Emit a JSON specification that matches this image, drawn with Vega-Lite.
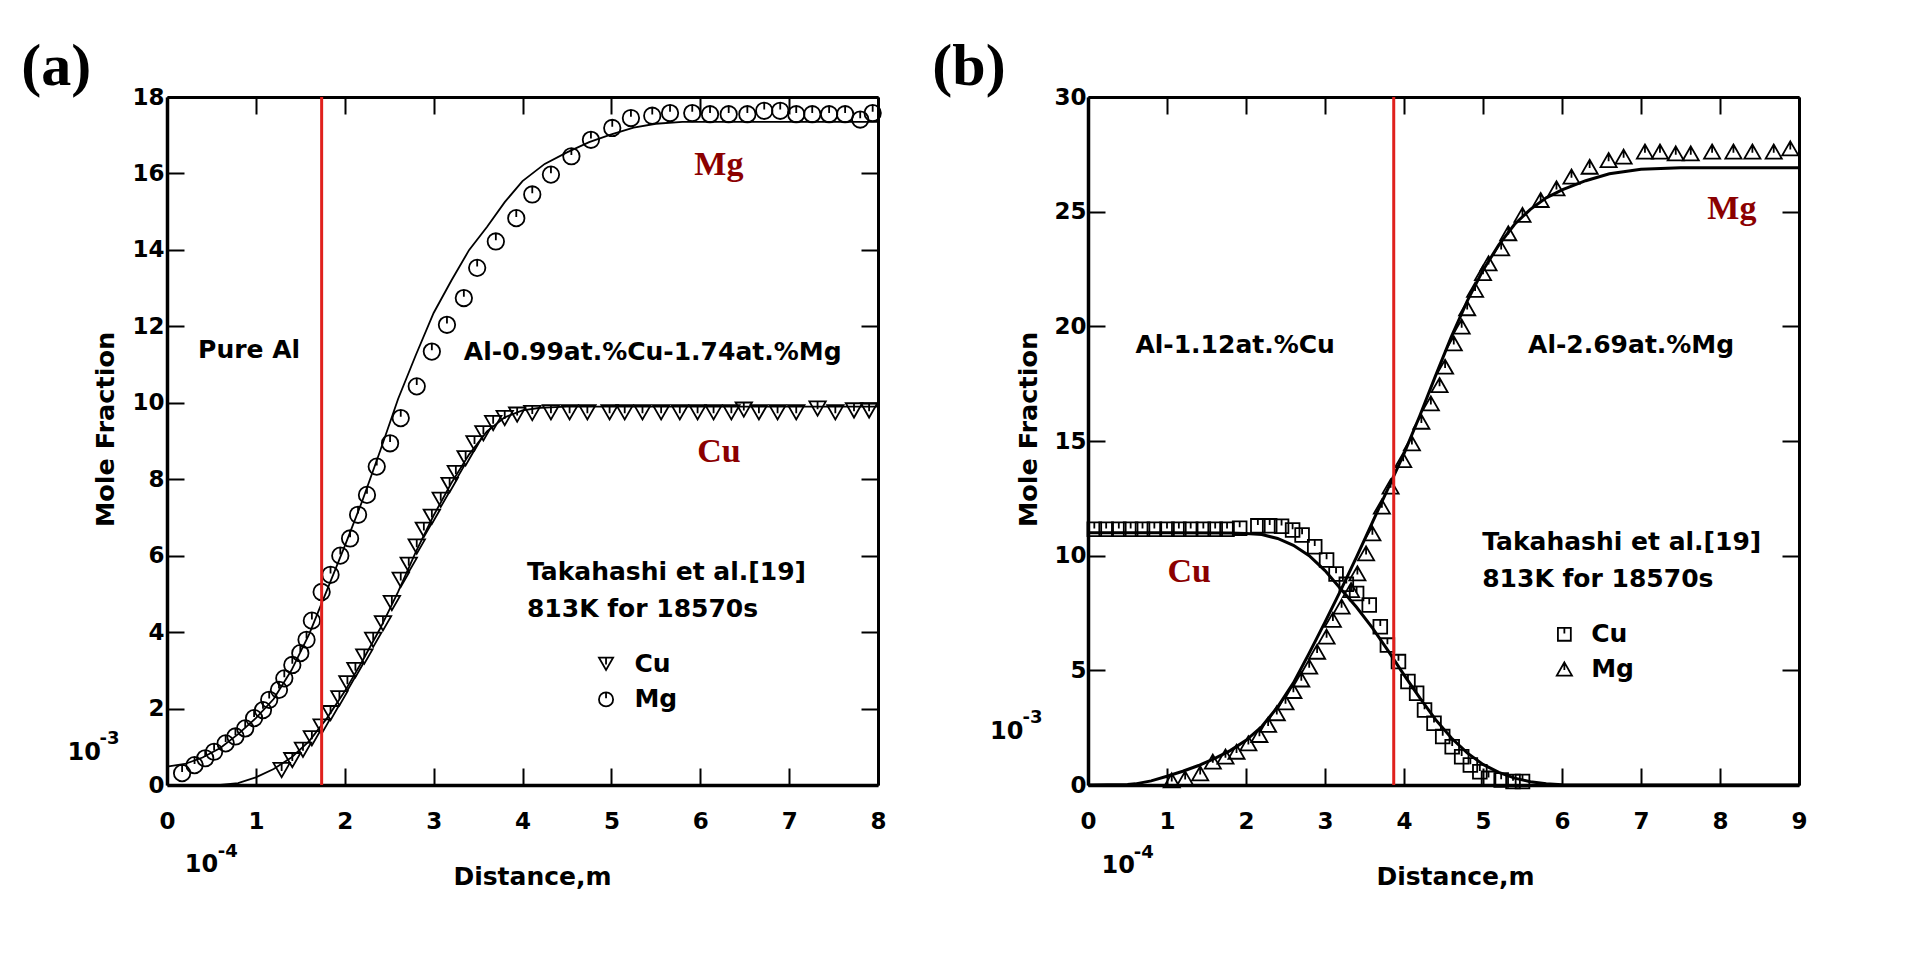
{
  "$schema": "https://vega.github.io/schema/vega-lite/v6.json",
  "autosize": "none",
  "padding": {"left": 167, "top": 97, "right": 1744, "bottom": 863},
  "background": "white",
  "bounds": "flush",
  "spacing": 210,
  "resolve": {"scale": {"shape": "independent"}},
  "config": {
    "view": {"stroke": null},
    "axis": {
      "grid": false,
      "domainColor": "black",
      "domainWidth": 3.5,
      "tickColor": "black",
      "tickWidth": 2,
      "tickSize": -17,
      "labelFont": "DejaVu Sans",
      "labelFontWeight": "bold",
      "labelFontSize": 23,
      "labelColor": "black",
      "labelFlush": false,
      "labelOverlap": false,
      "titleFont": "DejaVu Sans",
      "titleFontWeight": "bold",
      "titleColor": "black"
    },
    "text": {"font": "DejaVu Sans", "fontWeight": "bold", "fontSize": 25, "color": "black"}
  },
  "datasets": {
    "a_curves": [
      {"series": "Mg", "x": 0, "y": 0.48}, {"series": "Mg", "x": 0.2, "y": 0.55}, {"series": "Mg", "x": 0.4, "y": 0.72},
      {"series": "Mg", "x": 0.6, "y": 0.97}, {"series": "Mg", "x": 0.8, "y": 1.33}, {"series": "Mg", "x": 1.0, "y": 1.75},
      {"series": "Mg", "x": 1.2, "y": 2.25}, {"series": "Mg", "x": 1.4, "y": 3.0}, {"series": "Mg", "x": 1.6, "y": 3.95},
      {"series": "Mg", "x": 1.8, "y": 5.1}, {"series": "Mg", "x": 2.0, "y": 6.25}, {"series": "Mg", "x": 2.2, "y": 7.45},
      {"series": "Mg", "x": 2.4, "y": 8.75}, {"series": "Mg", "x": 2.6, "y": 10.1}, {"series": "Mg", "x": 2.8, "y": 11.25},
      {"series": "Mg", "x": 3.0, "y": 12.35}, {"series": "Mg", "x": 3.2, "y": 13.2}, {"series": "Mg", "x": 3.4, "y": 14.0},
      {"series": "Mg", "x": 3.6, "y": 14.6}, {"series": "Mg", "x": 3.8, "y": 15.25}, {"series": "Mg", "x": 4.0, "y": 15.8},
      {"series": "Mg", "x": 4.25, "y": 16.25}, {"series": "Mg", "x": 4.5, "y": 16.55}, {"series": "Mg", "x": 4.75, "y": 16.82},
      {"series": "Mg", "x": 5.0, "y": 17.02}, {"series": "Mg", "x": 5.25, "y": 17.2}, {"series": "Mg", "x": 5.5, "y": 17.3},
      {"series": "Mg", "x": 5.8, "y": 17.35}, {"series": "Mg", "x": 8.0, "y": 17.35},
      {"series": "Cu", "x": 0.6, "y": 0}, {"series": "Cu", "x": 0.8, "y": 0.05}, {"series": "Cu", "x": 1.0, "y": 0.2},
      {"series": "Cu", "x": 1.2, "y": 0.42}, {"series": "Cu", "x": 1.4, "y": 0.72}, {"series": "Cu", "x": 1.6, "y": 1.15},
      {"series": "Cu", "x": 1.8, "y": 1.75}, {"series": "Cu", "x": 2.0, "y": 2.45}, {"series": "Cu", "x": 2.2, "y": 3.25},
      {"series": "Cu", "x": 2.4, "y": 4.1}, {"series": "Cu", "x": 2.6, "y": 5.05}, {"series": "Cu", "x": 2.8, "y": 6.1},
      {"series": "Cu", "x": 3.0, "y": 7.05}, {"series": "Cu", "x": 3.2, "y": 7.9}, {"series": "Cu", "x": 3.4, "y": 8.65},
      {"series": "Cu", "x": 3.6, "y": 9.25}, {"series": "Cu", "x": 3.8, "y": 9.62}, {"series": "Cu", "x": 4.0, "y": 9.8},
      {"series": "Cu", "x": 4.2, "y": 9.87}, {"series": "Cu", "x": 4.5, "y": 9.9}, {"series": "Cu", "x": 8.0, "y": 9.9}
    ],
    "a_points": [
      {"series": "Mg", "x": 0.17, "y": 0.31}, {"series": "Mg", "x": 0.31, "y": 0.52}, {"series": "Mg", "x": 0.43, "y": 0.7},
      {"series": "Mg", "x": 0.53, "y": 0.87}, {"series": "Mg", "x": 0.66, "y": 1.09}, {"series": "Mg", "x": 0.77, "y": 1.27},
      {"series": "Mg", "x": 0.88, "y": 1.48}, {"series": "Mg", "x": 0.98, "y": 1.75}, {"series": "Mg", "x": 1.08, "y": 1.96},
      {"series": "Mg", "x": 1.15, "y": 2.23}, {"series": "Mg", "x": 1.26, "y": 2.49}, {"series": "Mg", "x": 1.32, "y": 2.79},
      {"series": "Mg", "x": 1.41, "y": 3.14}, {"series": "Mg", "x": 1.5, "y": 3.45}, {"series": "Mg", "x": 1.57, "y": 3.8},
      {"series": "Mg", "x": 1.63, "y": 4.3}, {"series": "Mg", "x": 1.74, "y": 5.05}, {"series": "Mg", "x": 1.84, "y": 5.5},
      {"series": "Mg", "x": 1.95, "y": 6.0}, {"series": "Mg", "x": 2.06, "y": 6.45}, {"series": "Mg", "x": 2.15, "y": 7.07},
      {"series": "Mg", "x": 2.25, "y": 7.59}, {"series": "Mg", "x": 2.36, "y": 8.33}, {"series": "Mg", "x": 2.51, "y": 8.94},
      {"series": "Mg", "x": 2.63, "y": 9.6}, {"series": "Mg", "x": 2.81, "y": 10.43}, {"series": "Mg", "x": 2.98, "y": 11.34},
      {"series": "Mg", "x": 3.15, "y": 12.04}, {"series": "Mg", "x": 3.34, "y": 12.74}, {"series": "Mg", "x": 3.49, "y": 13.53},
      {"series": "Mg", "x": 3.7, "y": 14.22}, {"series": "Mg", "x": 3.93, "y": 14.83}, {"series": "Mg", "x": 4.11, "y": 15.45},
      {"series": "Mg", "x": 4.32, "y": 15.97}, {"series": "Mg", "x": 4.55, "y": 16.45}, {"series": "Mg", "x": 4.77, "y": 16.88},
      {"series": "Mg", "x": 5.01, "y": 17.19}, {"series": "Mg", "x": 5.22, "y": 17.45}, {"series": "Mg", "x": 5.46, "y": 17.51},
      {"series": "Mg", "x": 5.66, "y": 17.58}, {"series": "Mg", "x": 5.91, "y": 17.58}, {"series": "Mg", "x": 6.11, "y": 17.55},
      {"series": "Mg", "x": 6.32, "y": 17.55}, {"series": "Mg", "x": 6.53, "y": 17.55}, {"series": "Mg", "x": 6.72, "y": 17.64},
      {"series": "Mg", "x": 6.9, "y": 17.64}, {"series": "Mg", "x": 7.08, "y": 17.55}, {"series": "Mg", "x": 7.26, "y": 17.55},
      {"series": "Mg", "x": 7.45, "y": 17.55}, {"series": "Mg", "x": 7.63, "y": 17.55}, {"series": "Mg", "x": 7.8, "y": 17.41},
      {"series": "Mg", "x": 7.94, "y": 17.58},
      {"series": "Cu", "x": 1.29, "y": 0.39}, {"series": "Cu", "x": 1.41, "y": 0.65}, {"series": "Cu", "x": 1.53, "y": 0.92},
      {"series": "Cu", "x": 1.63, "y": 1.22}, {"series": "Cu", "x": 1.74, "y": 1.53}, {"series": "Cu", "x": 1.84, "y": 1.88},
      {"series": "Cu", "x": 1.94, "y": 2.27}, {"series": "Cu", "x": 2.03, "y": 2.66}, {"series": "Cu", "x": 2.12, "y": 3.01},
      {"series": "Cu", "x": 2.22, "y": 3.36}, {"series": "Cu", "x": 2.32, "y": 3.8}, {"series": "Cu", "x": 2.43, "y": 4.23},
      {"series": "Cu", "x": 2.53, "y": 4.76}, {"series": "Cu", "x": 2.63, "y": 5.37}, {"series": "Cu", "x": 2.72, "y": 5.76},
      {"series": "Cu", "x": 2.81, "y": 6.24}, {"series": "Cu", "x": 2.89, "y": 6.68}, {"series": "Cu", "x": 2.98, "y": 7.02},
      {"series": "Cu", "x": 3.08, "y": 7.46}, {"series": "Cu", "x": 3.18, "y": 7.85}, {"series": "Cu", "x": 3.25, "y": 8.16},
      {"series": "Cu", "x": 3.36, "y": 8.55}, {"series": "Cu", "x": 3.46, "y": 8.94}, {"series": "Cu", "x": 3.56, "y": 9.2},
      {"series": "Cu", "x": 3.67, "y": 9.47}, {"series": "Cu", "x": 3.8, "y": 9.6}, {"series": "Cu", "x": 3.94, "y": 9.69},
      {"series": "Cu", "x": 4.11, "y": 9.73}, {"series": "Cu", "x": 4.32, "y": 9.75}, {"series": "Cu", "x": 4.53, "y": 9.75},
      {"series": "Cu", "x": 4.73, "y": 9.75}, {"series": "Cu", "x": 4.98, "y": 9.75}, {"series": "Cu", "x": 5.15, "y": 9.75},
      {"series": "Cu", "x": 5.35, "y": 9.75}, {"series": "Cu", "x": 5.56, "y": 9.75}, {"series": "Cu", "x": 5.77, "y": 9.75},
      {"series": "Cu", "x": 5.97, "y": 9.75}, {"series": "Cu", "x": 6.15, "y": 9.75}, {"series": "Cu", "x": 6.35, "y": 9.75},
      {"series": "Cu", "x": 6.49, "y": 9.82}, {"series": "Cu", "x": 6.66, "y": 9.75}, {"series": "Cu", "x": 6.87, "y": 9.75},
      {"series": "Cu", "x": 7.08, "y": 9.75}, {"series": "Cu", "x": 7.32, "y": 9.85}, {"series": "Cu", "x": 7.52, "y": 9.75},
      {"series": "Cu", "x": 7.73, "y": 9.8}, {"series": "Cu", "x": 7.9, "y": 9.8}
    ],
    "a_legend": [
      {"series": "Cu", "x": 4.94, "y": 3.17},
      {"series": "Mg", "x": 4.94, "y": 2.24}
    ],
    "a_text": [
      {"x": 0.35, "y": 11.39, "text": "Pure Al", "style": "label"},
      {"x": 3.34, "y": 11.34, "text": "Al-0.99at.%Cu-1.74at.%Mg", "style": "label"},
      {"x": 4.05, "y": 5.58, "text": "Takahashi et al.[19]", "style": "label"},
      {"x": 4.05, "y": 4.6, "text": "813K for 18570s", "style": "label"},
      {"x": 5.26, "y": 3.17, "text": "Cu", "style": "label"},
      {"x": 5.26, "y": 2.24, "text": "Mg", "style": "label"},
      {"x": 6.21, "y": 15.97, "text": "Mg", "style": "element"},
      {"x": 6.21, "y": 8.46, "text": "Cu", "style": "element"},
      {"x": -1.12, "y": 0.66, "text": "10", "style": "base"},
      {"x": -0.76, "y": 1.07, "text": "-3", "style": "sup"},
      {"x": 0.2, "y": -2.28, "text": "10", "style": "base"},
      {"x": 0.57, "y": -1.88, "text": "-4", "style": "sup"},
      {"x": -1.64, "y": 18.32, "text": "(a)", "style": "panel"}
    ],
    "a_marker": [{"x": 1.74}],
    "b_curves": [
      {"series": "Cu", "x": 0, "y": 11.0}, {"series": "Cu", "x": 1.0, "y": 11.0}, {"series": "Cu", "x": 1.8, "y": 10.99},
      {"series": "Cu", "x": 2.0, "y": 10.97}, {"series": "Cu", "x": 2.2, "y": 10.92}, {"series": "Cu", "x": 2.4, "y": 10.75},
      {"series": "Cu", "x": 2.6, "y": 10.45}, {"series": "Cu", "x": 2.8, "y": 10.0}, {"series": "Cu", "x": 3.0, "y": 9.35},
      {"series": "Cu", "x": 3.2, "y": 8.55}, {"series": "Cu", "x": 3.4, "y": 7.75}, {"series": "Cu", "x": 3.6, "y": 6.85},
      {"series": "Cu", "x": 3.8, "y": 5.85}, {"series": "Cu", "x": 4.0, "y": 4.8}, {"series": "Cu", "x": 4.2, "y": 3.8},
      {"series": "Cu", "x": 4.4, "y": 2.85}, {"series": "Cu", "x": 4.6, "y": 2.05}, {"series": "Cu", "x": 4.8, "y": 1.4},
      {"series": "Cu", "x": 5.0, "y": 0.9}, {"series": "Cu", "x": 5.2, "y": 0.55}, {"series": "Cu", "x": 5.4, "y": 0.3},
      {"series": "Cu", "x": 5.6, "y": 0.14}, {"series": "Cu", "x": 5.8, "y": 0.05}, {"series": "Cu", "x": 6.0, "y": 0.01},
      {"series": "Cu", "x": 6.3, "y": 0}, {"series": "Cu", "x": 9.0, "y": 0},
      {"series": "Mg", "x": 0, "y": 0}, {"series": "Mg", "x": 0.5, "y": 0.02}, {"series": "Mg", "x": 0.6, "y": 0.05},
      {"series": "Mg", "x": 0.8, "y": 0.18}, {"series": "Mg", "x": 1.0, "y": 0.38}, {"series": "Mg", "x": 1.2, "y": 0.6},
      {"series": "Mg", "x": 1.4, "y": 0.85}, {"series": "Mg", "x": 1.6, "y": 1.15}, {"series": "Mg", "x": 1.8, "y": 1.5},
      {"series": "Mg", "x": 2.0, "y": 1.95}, {"series": "Mg", "x": 2.2, "y": 2.55}, {"series": "Mg", "x": 2.4, "y": 3.4},
      {"series": "Mg", "x": 2.6, "y": 4.45}, {"series": "Mg", "x": 2.8, "y": 5.75}, {"series": "Mg", "x": 3.0, "y": 7.1},
      {"series": "Mg", "x": 3.2, "y": 8.5}, {"series": "Mg", "x": 3.4, "y": 9.95}, {"series": "Mg", "x": 3.6, "y": 11.45},
      {"series": "Mg", "x": 3.8, "y": 12.95}, {"series": "Mg", "x": 4.0, "y": 14.45}, {"series": "Mg", "x": 4.2, "y": 16.1},
      {"series": "Mg", "x": 4.4, "y": 17.85}, {"series": "Mg", "x": 4.6, "y": 19.55}, {"series": "Mg", "x": 4.8, "y": 21.1},
      {"series": "Mg", "x": 5.0, "y": 22.45}, {"series": "Mg", "x": 5.2, "y": 23.55}, {"series": "Mg", "x": 5.4, "y": 24.45},
      {"series": "Mg", "x": 5.6, "y": 25.1}, {"series": "Mg", "x": 5.8, "y": 25.6}, {"series": "Mg", "x": 6.0, "y": 25.95},
      {"series": "Mg", "x": 6.3, "y": 26.35}, {"series": "Mg", "x": 6.6, "y": 26.65}, {"series": "Mg", "x": 7.0, "y": 26.85},
      {"series": "Mg", "x": 7.5, "y": 26.92}, {"series": "Mg", "x": 9.0, "y": 26.92}
    ],
    "b_points": [
      {"series": "Cu", "x": 0.08, "y": 11.15}, {"series": "Cu", "x": 0.23, "y": 11.15}, {"series": "Cu", "x": 0.39, "y": 11.15},
      {"series": "Cu", "x": 0.54, "y": 11.15}, {"series": "Cu", "x": 0.69, "y": 11.15}, {"series": "Cu", "x": 0.84, "y": 11.15},
      {"series": "Cu", "x": 1.0, "y": 11.15}, {"series": "Cu", "x": 1.15, "y": 11.15}, {"series": "Cu", "x": 1.3, "y": 11.15},
      {"series": "Cu", "x": 1.46, "y": 11.15}, {"series": "Cu", "x": 1.61, "y": 11.15}, {"series": "Cu", "x": 1.76, "y": 11.15},
      {"series": "Cu", "x": 1.92, "y": 11.2}, {"series": "Cu", "x": 2.15, "y": 11.3}, {"series": "Cu", "x": 2.3, "y": 11.3},
      {"series": "Cu", "x": 2.45, "y": 11.28}, {"series": "Cu", "x": 2.59, "y": 11.12}, {"series": "Cu", "x": 2.71, "y": 10.9},
      {"series": "Cu", "x": 2.87, "y": 10.39}, {"series": "Cu", "x": 3.02, "y": 9.81}, {"series": "Cu", "x": 3.14, "y": 9.2},
      {"series": "Cu", "x": 3.27, "y": 8.75}, {"series": "Cu", "x": 3.4, "y": 8.35}, {"series": "Cu", "x": 3.56, "y": 7.85},
      {"series": "Cu", "x": 3.7, "y": 6.9}, {"series": "Cu", "x": 3.79, "y": 6.1}, {"series": "Cu", "x": 3.93, "y": 5.38},
      {"series": "Cu", "x": 4.05, "y": 4.51}, {"series": "Cu", "x": 4.16, "y": 4.0}, {"series": "Cu", "x": 4.26, "y": 3.27},
      {"series": "Cu", "x": 4.38, "y": 2.69}, {"series": "Cu", "x": 4.49, "y": 2.11}, {"series": "Cu", "x": 4.61, "y": 1.67},
      {"series": "Cu", "x": 4.73, "y": 1.23}, {"series": "Cu", "x": 4.84, "y": 0.87}, {"series": "Cu", "x": 4.96, "y": 0.58},
      {"series": "Cu", "x": 5.07, "y": 0.29}, {"series": "Cu", "x": 5.23, "y": 0.22}, {"series": "Cu", "x": 5.38, "y": 0.15},
      {"series": "Cu", "x": 5.5, "y": 0.15},
      {"series": "Mg", "x": 1.06, "y": 0.2}, {"series": "Mg", "x": 1.23, "y": 0.29}, {"series": "Mg", "x": 1.42, "y": 0.51},
      {"series": "Mg", "x": 1.58, "y": 1.02}, {"series": "Mg", "x": 1.74, "y": 1.24}, {"series": "Mg", "x": 1.88, "y": 1.45},
      {"series": "Mg", "x": 2.03, "y": 1.82}, {"series": "Mg", "x": 2.17, "y": 2.18}, {"series": "Mg", "x": 2.28, "y": 2.62},
      {"series": "Mg", "x": 2.39, "y": 3.13}, {"series": "Mg", "x": 2.5, "y": 3.6}, {"series": "Mg", "x": 2.6, "y": 4.1},
      {"series": "Mg", "x": 2.7, "y": 4.6}, {"series": "Mg", "x": 2.8, "y": 5.16}, {"series": "Mg", "x": 2.9, "y": 5.81},
      {"series": "Mg", "x": 3.02, "y": 6.47}, {"series": "Mg", "x": 3.1, "y": 7.2}, {"series": "Mg", "x": 3.21, "y": 7.78},
      {"series": "Mg", "x": 3.33, "y": 8.5}, {"series": "Mg", "x": 3.41, "y": 9.23}, {"series": "Mg", "x": 3.52, "y": 10.1},
      {"series": "Mg", "x": 3.6, "y": 10.97}, {"series": "Mg", "x": 3.72, "y": 12.14}, {"series": "Mg", "x": 3.83, "y": 13.01},
      {"series": "Mg", "x": 3.99, "y": 14.17}, {"series": "Mg", "x": 4.1, "y": 14.9}, {"series": "Mg", "x": 4.22, "y": 15.84},
      {"series": "Mg", "x": 4.34, "y": 16.64}, {"series": "Mg", "x": 4.45, "y": 17.44}, {"series": "Mg", "x": 4.52, "y": 18.24},
      {"series": "Mg", "x": 4.63, "y": 19.26}, {"series": "Mg", "x": 4.73, "y": 19.99}, {"series": "Mg", "x": 4.8, "y": 20.79},
      {"series": "Mg", "x": 4.9, "y": 21.59}, {"series": "Mg", "x": 5.0, "y": 22.32}, {"series": "Mg", "x": 5.07, "y": 22.75},
      {"series": "Mg", "x": 5.23, "y": 23.4}, {"series": "Mg", "x": 5.32, "y": 24.06}, {"series": "Mg", "x": 5.5, "y": 24.86},
      {"series": "Mg", "x": 5.73, "y": 25.51}, {"series": "Mg", "x": 5.93, "y": 26.02}, {"series": "Mg", "x": 6.12, "y": 26.53},
      {"series": "Mg", "x": 6.35, "y": 26.96}, {"series": "Mg", "x": 6.59, "y": 27.25}, {"series": "Mg", "x": 6.78, "y": 27.4},
      {"series": "Mg", "x": 7.05, "y": 27.62}, {"series": "Mg", "x": 7.24, "y": 27.62}, {"series": "Mg", "x": 7.44, "y": 27.54},
      {"series": "Mg", "x": 7.63, "y": 27.54}, {"series": "Mg", "x": 7.9, "y": 27.62}, {"series": "Mg", "x": 8.17, "y": 27.62},
      {"series": "Mg", "x": 8.41, "y": 27.62}, {"series": "Mg", "x": 8.68, "y": 27.62}, {"series": "Mg", "x": 8.89, "y": 27.76}
    ],
    "b_legend": [
      {"series": "Cu", "x": 6.03, "y": 6.57},
      {"series": "Mg", "x": 6.03, "y": 5.06}
    ],
    "b_text": [
      {"x": 0.6, "y": 19.2, "text": "Al-1.12at.%Cu", "style": "label"},
      {"x": 5.57, "y": 19.2, "text": "Al-2.69at.%Mg", "style": "label"},
      {"x": 4.99, "y": 10.61, "text": "Takahashi et al.[19]", "style": "label"},
      {"x": 4.99, "y": 8.98, "text": "813K for 18570s", "style": "label"},
      {"x": 6.37, "y": 6.57, "text": "Cu", "style": "label"},
      {"x": 6.37, "y": 5.06, "text": "Mg", "style": "label"},
      {"x": 8.15, "y": 24.66, "text": "Mg", "style": "element"},
      {"x": 1.28, "y": 8.85, "text": "Cu", "style": "element"},
      {"x": -1.24, "y": 2.02, "text": "10", "style": "base"},
      {"x": -0.83, "y": 2.7, "text": "-3", "style": "sup"},
      {"x": 0.17, "y": -3.84, "text": "10", "style": "base"},
      {"x": 0.58, "y": -3.18, "text": "-4", "style": "sup"},
      {"x": -1.97, "y": 30.53, "text": "(b)", "style": "panel"}
    ],
    "b_marker": [{"x": 3.87}]
  },
  "hconcat": [
    {
      "width": 711,
      "height": 688,
      "resolve": {"axis": {"x": "independent", "y": "independent"}},
      "layer": [
        {
          "data": {"name": "a_curves"},
          "mark": {"type": "line", "color": "black", "strokeWidth": 1.8},
          "encoding": {
            "x": {"field": "x", "type": "quantitative", "scale": {"domain": [0, 8], "nice": false, "zero": false},
                  "axis": {"orient": "bottom", "values": [0, 1, 2, 3, 4, 5, 6, 7, 8], "format": "d", "labelPadding": 42, "title": "Distance,m", "titleFontSize": 25, "titleX": 365, "titleY": 99, "titleBaseline": "alphabetic", "titleAlign": "center"}},
            "y": {"field": "y", "type": "quantitative", "scale": {"domain": [0, 18], "nice": false, "zero": false},
                  "axis": {"orient": "left", "values": [0, 2, 4, 6, 8, 10, 12, 14, 16, 18], "format": "d", "labelPadding": 20, "title": "Mole Fraction", "titleFontSize": 25.5, "titleX": -54, "titleY": 332, "titleAngle": -90, "titleBaseline": "alphabetic", "titleAlign": "center"}},
            "detail": {"field": "series", "type": "nominal"}
          }
        },
        {
          "data": {"name": "a_points"},
          "mark": {"type": "point", "filled": false, "color": "black", "strokeWidth": 1.8, "size": 270, "opacity": 1},
          "encoding": {
            "x": {"field": "x", "type": "quantitative", "scale": {"domain": [0, 8], "nice": false, "zero": false},
                  "axis": {"orient": "top", "values": [0, 1, 2, 3, 4, 5, 6, 7, 8], "labels": false, "title": null, "domainWidth": 3}},
            "y": {"field": "y", "type": "quantitative", "scale": {"domain": [0, 18], "nice": false, "zero": false},
                  "axis": {"orient": "right", "values": [0, 2, 4, 6, 8, 10, 12, 14, 16, 18], "labels": false, "title": null, "domainWidth": 3}},
            "shape": {"field": "series", "type": "nominal", "legend": null,
                      "scale": {"domain": ["Cu", "Mg"], "range": ["M-1,-0.87L1,-0.87L0,0.87ZM0,-0.87L0,0.1", "M0,-1A1,1,0,1,1,0,1A1,1,0,1,1,0,-1ZM0,-1L0,-0.15"]}}
          }
        },
        {
          "data": {"name": "a_legend"},
          "mark": {"type": "point", "filled": false, "color": "black", "strokeWidth": 1.8, "size": 200, "opacity": 1},
          "encoding": {
            "x": {"field": "x", "type": "quantitative", "axis": null},
            "y": {"field": "y", "type": "quantitative", "axis": null},
            "shape": {"field": "series", "type": "nominal", "legend": null}
          }
        },
        {
          "data": {"name": "a_marker"},
          "mark": {"type": "rule", "color": "#e0201c", "strokeWidth": 3},
          "encoding": {"x": {"field": "x", "type": "quantitative", "axis": null}}
        },
        {
          "data": {"name": "a_text"},
          "transform": [{"filter": "datum.style === 'label'"}],
          "mark": {"type": "text", "align": "left", "baseline": "middle", "fontSize": 25},
          "encoding": {
            "x": {"field": "x", "type": "quantitative", "axis": null},
            "y": {"field": "y", "type": "quantitative", "axis": null},
            "text": {"field": "text"}
          }
        },
        {
          "data": {"name": "a_text"},
          "transform": [{"filter": "datum.style === 'element'"}],
          "mark": {"type": "text", "align": "center", "baseline": "alphabetic", "font": "Liberation Serif", "fontSize": 34, "fontWeight": "bold", "color": "#8b0000"},
          "encoding": {
            "x": {"field": "x", "type": "quantitative", "axis": null},
            "y": {"field": "y", "type": "quantitative", "axis": null},
            "text": {"field": "text"}
          }
        },
        {
          "data": {"name": "a_text"},
          "transform": [{"filter": "datum.style === 'panel'"}],
          "mark": {"type": "text", "align": "left", "baseline": "alphabetic", "font": "Liberation Serif", "fontSize": 60, "fontWeight": "bold", "color": "black"},
          "encoding": {
            "x": {"field": "x", "type": "quantitative", "axis": null},
            "y": {"field": "y", "type": "quantitative", "axis": null},
            "text": {"field": "text"}
          }
        },
        {
          "data": {"name": "a_text"},
          "transform": [{"filter": "datum.style === 'base'"}],
          "mark": {"type": "text", "align": "left", "baseline": "alphabetic", "fontSize": 24},
          "encoding": {
            "x": {"field": "x", "type": "quantitative", "axis": null},
            "y": {"field": "y", "type": "quantitative", "axis": null},
            "text": {"field": "text"}
          }
        },
        {
          "data": {"name": "a_text"},
          "transform": [{"filter": "datum.style === 'sup'"}],
          "mark": {"type": "text", "align": "left", "baseline": "alphabetic", "fontSize": 18},
          "encoding": {
            "x": {"field": "x", "type": "quantitative", "axis": null},
            "y": {"field": "y", "type": "quantitative", "axis": null},
            "text": {"field": "text"}
          }
        }
      ]
    },
    {
      "width": 711,
      "height": 688,
      "resolve": {"axis": {"x": "independent", "y": "independent"}},
      "layer": [
        {
          "data": {"name": "b_curves"},
          "mark": {"type": "line", "color": "black", "strokeWidth": 3},
          "encoding": {
            "x": {"field": "x", "type": "quantitative", "scale": {"domain": [0, 9], "nice": false, "zero": false},
                  "axis": {"orient": "bottom", "values": [0, 1, 2, 3, 4, 5, 6, 7, 8, 9], "format": "d", "labelPadding": 42, "title": "Distance,m", "titleFontSize": 25, "titleX": 367, "titleY": 99, "titleBaseline": "alphabetic", "titleAlign": "center"}},
            "y": {"field": "y", "type": "quantitative", "scale": {"domain": [0, 30], "nice": false, "zero": false},
                  "axis": {"orient": "left", "values": [0, 5, 10, 15, 20, 25, 30], "format": "d", "labelPadding": 19, "title": "Mole Fraction", "titleFontSize": 25.5, "titleX": -52, "titleY": 332, "titleAngle": -90, "titleBaseline": "alphabetic", "titleAlign": "center"}},
            "detail": {"field": "series", "type": "nominal"}
          }
        },
        {
          "data": {"name": "b_points"},
          "mark": {"type": "point", "filled": false, "color": "black", "strokeWidth": 1.8, "size": 260, "opacity": 1},
          "encoding": {
            "x": {"field": "x", "type": "quantitative", "scale": {"domain": [0, 9], "nice": false, "zero": false},
                  "axis": {"orient": "top", "values": [0, 1, 2, 3, 4, 5, 6, 7, 8, 9], "labels": false, "title": null, "domainWidth": 3}},
            "y": {"field": "y", "type": "quantitative", "scale": {"domain": [0, 30], "nice": false, "zero": false},
                  "axis": {"orient": "right", "values": [0, 5, 10, 15, 20, 25, 30], "labels": false, "title": null, "domainWidth": 3}},
            "shape": {"field": "series", "type": "nominal", "legend": null,
                      "scale": {"domain": ["Cu", "Mg"], "range": ["M-0.85,-0.85L0.85,-0.85L0.85,0.85L-0.85,0.85ZM0,-0.85L0,-0.1", "M0,-0.87L1,0.87L-1,0.87ZM0,-0.87L0,0.15"]}}
          }
        },
        {
          "data": {"name": "b_legend"},
          "mark": {"type": "point", "filled": false, "color": "black", "strokeWidth": 1.8, "size": 230, "opacity": 1},
          "encoding": {
            "x": {"field": "x", "type": "quantitative", "axis": null},
            "y": {"field": "y", "type": "quantitative", "axis": null},
            "shape": {"field": "series", "type": "nominal", "legend": null}
          }
        },
        {
          "data": {"name": "b_marker"},
          "mark": {"type": "rule", "color": "#e0201c", "strokeWidth": 3},
          "encoding": {"x": {"field": "x", "type": "quantitative", "axis": null}}
        },
        {
          "data": {"name": "b_text"},
          "transform": [{"filter": "datum.style === 'label'"}],
          "mark": {"type": "text", "align": "left", "baseline": "middle", "fontSize": 25},
          "encoding": {
            "x": {"field": "x", "type": "quantitative", "axis": null},
            "y": {"field": "y", "type": "quantitative", "axis": null},
            "text": {"field": "text"}
          }
        },
        {
          "data": {"name": "b_text"},
          "transform": [{"filter": "datum.style === 'element'"}],
          "mark": {"type": "text", "align": "center", "baseline": "alphabetic", "font": "Liberation Serif", "fontSize": 34, "fontWeight": "bold", "color": "#8b0000"},
          "encoding": {
            "x": {"field": "x", "type": "quantitative", "axis": null},
            "y": {"field": "y", "type": "quantitative", "axis": null},
            "text": {"field": "text"}
          }
        },
        {
          "data": {"name": "b_text"},
          "transform": [{"filter": "datum.style === 'panel'"}],
          "mark": {"type": "text", "align": "left", "baseline": "alphabetic", "font": "Liberation Serif", "fontSize": 60, "fontWeight": "bold", "color": "black"},
          "encoding": {
            "x": {"field": "x", "type": "quantitative", "axis": null},
            "y": {"field": "y", "type": "quantitative", "axis": null},
            "text": {"field": "text"}
          }
        },
        {
          "data": {"name": "b_text"},
          "transform": [{"filter": "datum.style === 'base'"}],
          "mark": {"type": "text", "align": "left", "baseline": "alphabetic", "fontSize": 24},
          "encoding": {
            "x": {"field": "x", "type": "quantitative", "axis": null},
            "y": {"field": "y", "type": "quantitative", "axis": null},
            "text": {"field": "text"}
          }
        },
        {
          "data": {"name": "b_text"},
          "transform": [{"filter": "datum.style === 'sup'"}],
          "mark": {"type": "text", "align": "left", "baseline": "alphabetic", "fontSize": 18},
          "encoding": {
            "x": {"field": "x", "type": "quantitative", "axis": null},
            "y": {"field": "y", "type": "quantitative", "axis": null},
            "text": {"field": "text"}
          }
        }
      ]
    }
  ]
}
